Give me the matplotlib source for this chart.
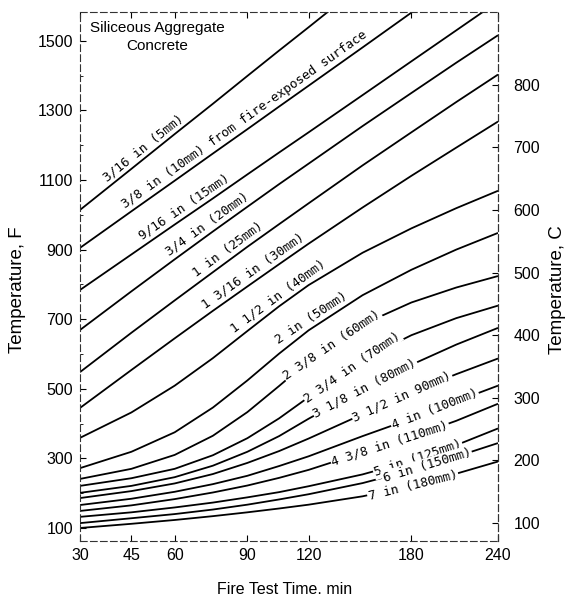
import numpy as np
import matplotlib
matplotlib.use("Agg")
import matplotlib.pyplot as plt
from matplotlib import transforms

nan = np.nan
# ---------------- data ----------------
times = [30, 45, 60, 75, 90, 105, 120, 150, 180, 210, 240]          # min

c01 = [1014, 1132, 1232, 1319, 1399, 1472, 1539, 1663, nan, nan, nan]
c02 = [905, 1010, 1098, 1176, 1246, 1311, 1371, 1481, 1581, 1672, nan]
c03 = [784, 886, 972, 1047, 1116, 1179, 1237, 1344, 1441, 1530, 1613]
c04 = [669, 780, 872, 952, 1023, 1088, 1147, 1255, 1350, 1437, 1516]
c05 = [548, 661, 754, 835, 908, 973, 1033, 1142, 1237, 1324, 1403]
c06 = [445, 554, 645, 724, 794, 858, 917, 1021, 1112, 1193, 1268]
c07 = [359, 432, 509, 588, 666, 737, 798, 891, 961, 1019, 1069]
c08 = [272, 319, 375, 446, 524, 601, 668, 769, 842, 900, 948]
c09 = [241, 270, 310, 365, 433, 508, 580, 685, 748, 791, 824]
c10 = [221, 243, 270, 309, 358, 415, 476, 584, 654, 703, 739]
c11 = [201, 221, 246, 279, 319, 364, 414, 499, 569, 627, 675]
c12 = [186, 206, 228, 255, 287, 321, 357, 427, 490, 542, 587]
c13 = [166, 184, 204, 226, 250, 278, 306, 364, 414, 464, 509]
c14 = [149, 165, 183, 202, 222, 244, 267, 317, 362, 408, 457]
c15 = [132, 145, 159, 173, 188, 203, 220, 254, 293, 338, 386]
c16 = [114, 128, 140, 153, 167, 182, 197, 229, 266, 305, 344]
c17 = [100, 112, 123, 134, 145, 156, 167, 191, 221, 256, 291]

curves = [c01, c02, c03, c04, c05, c06, c07, c08, c09,
          c10, c11, c12, c13, c14, c15, c16, c17]

curve_labels = [
    "3/16 in (5mm)",
    "3/8 in (10mm) from fire-exposed surface",
    "9/16 in (15mm)",
    "3/4 in (20mm)",
    "1 in (25mm)",
    "1 3/16 in (30mm)",
    "1 1/2 in (40mm)",
    "2 in (50mm)",
    "2 3/8 in (60mm)",
    "2 3/4 in (70mm)",
    "3 1/8 in (80mm)",
    "3 1/2 in 90mm)",
    "4 in (100mm)",
    "4 3/8 in (110mm)",
    "5 in (125mm)",
    "6 in (150mm)",
    "7 in (180mm)",
]
# time (min) at the centre of each label
label_times = [50.8, 91.2, 65.8, 75.0, 84.0, 95.0, 107.0, 124.0, 132.6,
               143.9, 151.4, 174.0, 195.5, 166.5, 184.3, 190.2, 181.0]

x_ticks = [30, 45, 60, 90, 120, 180, 240]
f_ticks = [100, 300, 500, 700, 900, 1100, 1300, 1500]
c_ticks = [100, 200, 300, 400, 500, 600, 700, 800]

# ---------------- figure ----------------
W, H = 575, 606
fig = plt.figure(figsize=(W / 100, H / 100), dpi=100)
L, R, T, B = 80, 498, 12, 541
ax = fig.add_axes([L / W, 1 - B / H, (R - L) / W, (B - T) / H])

ax.set_xscale('function', functions=(np.sqrt, np.square))
ax.set_xlim(30, 240)
ax.set_ylim(62.6, 1582.8)

for c in curves:
    ax.plot(times, c, color='black', lw=1.3, solid_capstyle='butt',
            solid_joinstyle='round', zorder=2)

sans = ['Liberation Sans', 'DejaVu Sans']
ax.set_xticks(x_ticks)
ax.set_xticklabels([str(v) for v in x_ticks], family=sans, fontsize=11.5)
ax.set_yticks(f_ticks)
ax.set_yticklabels([str(v) for v in f_ticks], family=sans, fontsize=11.5)
ax.set_yticks(np.arange(200, 1600, 200), minor=True)
ax.tick_params(axis='both', which='major', direction='in', length=4, width=0.8,
               top=True, right=False, pad=5)
ax.tick_params(axis='both', which='minor', direction='in', length=2, width=0.6)

for s in ax.spines.values():
    s.set_linestyle((0, (6, 3)))
    s.set_linewidth(0.8)
    s.set_color('#333333')

sec = ax.secondary_yaxis('right', functions=(lambda f: (f + 66) / 1.8,
                                             lambda c: c * 1.8 - 66))
sec.set_yticks(c_ticks)
sec.set_yticklabels([str(v) for v in c_ticks], family=sans, fontsize=11.5)
sec.tick_params(direction='in', length=4, width=0.8, pad=11)
sec.spines['right'].set_linestyle((0, (6, 3)))
sec.spines['right'].set_linewidth(0.8)
sec.spines['right'].set_color('#333333')

fig.text(18 / W, 1 - 290 / H, "Temperature, F", rotation=90, ha='center',
         va='center', family=sans, fontsize=13.5)
fig.text(558 / W, 1 - 290 / H, "Temperature, C", rotation=90, ha='center',
         va='center', family=sans, fontsize=13.5)
fig.text(285 / W, 1 - 590 / H, "Fire Test Time. min", ha='center',
         va='center', family=sans, fontsize=11.5)
fig.text(157 / W, 1 - 37 / H, "Siliceous Aggregate\nConcrete", ha='center',
         va='center', family=sans, fontsize=11, linespacing=1.35)

# curve labels
fig.canvas.draw()
mono = ['DejaVu Sans Mono']
for i, (c, lab, tl) in enumerate(zip(curves, curve_labels, label_times)):
    cc = np.array(c, dtype=float)
    ok = ~np.isnan(cc)
    sq = np.sqrt(np.array(times, dtype=float))[ok]
    cv = cc[ok]
    f0 = np.interp(np.sqrt(tl), sq, cv)
    t1, t2 = tl * 0.96, tl * 1.04
    f1 = np.interp(np.sqrt(t1), sq, cv)
    f2 = np.interp(np.sqrt(t2), sq, cv)
    p1 = ax.transData.transform((t1, f1))
    p2 = ax.transData.transform((t2, f2))
    ang = np.degrees(np.arctan2(p2[1] - p1[1], p2[0] - p1[0]))
    if i < 8:
        off = 2.0
        tr = transforms.offset_copy(ax.transData, fig=fig,
                                    x=-np.sin(np.radians(ang)) * off,
                                    y=np.cos(np.radians(ang)) * off,
                                    units='points')
        ax.text(tl, f0, lab, rotation=ang, rotation_mode='anchor',
                ha='center', va='bottom', transform=tr, family=mono,
                fontsize=9.2, zorder=3)
    else:
        ax.text(tl, f0, lab, rotation=ang, rotation_mode='anchor',
                ha='center', va='center', family=mono, fontsize=9.2,
                zorder=3, bbox=dict(boxstyle='square,pad=0.08', fc='white',
                                    ec='none'))

fig.savefig('out.png', dpi=100)
